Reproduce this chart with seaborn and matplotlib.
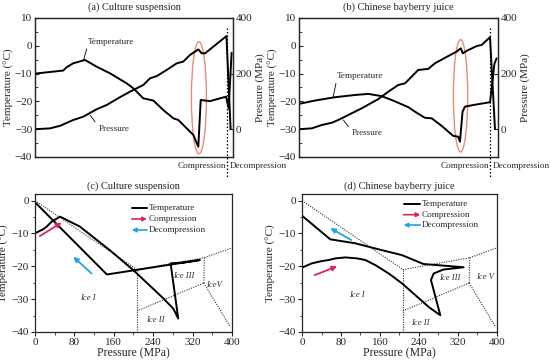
import numpy as np
import pandas as pd
import seaborn as sns
import matplotlib.pyplot as plt
from matplotlib.patches import Ellipse

sns.set_style("ticks")
plt.rcParams['font.family'] = ['Liberation Serif', 'DejaVu Serif']
plt.rcParams['axes.unicode_minus'] = True

# ---------------- data ----------------
# (a) culture suspension, time course (t = fraction of process time)
a_temp_t = [0.0, 0.143, 0.16, 0.193, 0.253, 0.311, 0.379, 0.463, 0.497, 0.547, 0.598, 0.648,
            0.699, 0.724, 0.783, 0.80, 0.825, 0.837, 0.884, 0.965, 0.978, 0.993]
a_temp = [-10.0, -8.9, -7.7, -6.3, -5.1, -7.5, -9.9, -13.5, -15.3, -18.9, -19.7, -23.1,
          -26.1, -26.7, -30.9, -32.1, -36.3, -19.5, -19.9, -18.3, -22.5, -2.5]
a_pres_t = [0.0, 0.076, 0.126, 0.193, 0.244, 0.312, 0.362, 0.429, 0.48, 0.505, 0.547, 0.581,
            0.615, 0.665, 0.716, 0.749, 0.783, 0.808, 0.825, 0.842, 0.859, 0.967, 0.988]
a_pres = [0, 3, 12, 33, 45, 72, 87, 115, 135, 144, 159, 183,
          191, 213, 237, 243, 267, 279, 287, 273, 273, 335, 0]

# (b) Chinese bayberry juice, time course
b_temp_t = [0.0, 0.08, 0.181, 0.281, 0.348, 0.415, 0.466, 0.499, 0.55, 0.583, 0.633, 0.667,
            0.717, 0.775, 0.80, 0.809, 0.822, 0.834, 0.876, 0.96, 0.972, 0.982, 0.993]
b_temp = [-20.9, -19.7, -18.5, -17.7, -17.3, -18.1, -19.5, -20.5, -22.1, -23.7, -25.9, -26.1,
          -28.8, -32.4, -32.7, -34.5, -23.7, -21.9, -21.3, -20.3, -13.0, -6.5, -4.5]
b_pres_t = [0.0, 0.064, 0.114, 0.164, 0.197, 0.231, 0.281, 0.315, 0.365, 0.398, 0.449, 0.499,
            0.533, 0.566, 0.599, 0.65, 0.683, 0.75, 0.792, 0.813, 0.823, 0.843, 0.893, 0.918,
            0.96, 0.985]
b_pres = [0, 3, 15, 23, 33, 45, 63, 75, 95, 108, 135, 159,
          165, 189, 213, 217, 237, 263, 279, 291, 273, 282, 299, 303,
          331, 0]

# (c) culture suspension, temperature vs pressure path
c_pres = [0, 17, 24, 34, 51, 91, 152, 200, 261, 281, 291, 275.5, 300, 335, 146, 0]
c_temp = [-9.95, -8.7, -7.9, -6.4, -4.9, -7.9, -15.1, -21.2, -29.8, -32.9, -35.9, -19.1,
          -18.9, -18.1, -22.5, -0.5]

# (d) Chinese bayberry juice, temperature vs pressure path
d_pres = [0, 20.5, 41, 54.7, 68.4, 89, 113, 130, 150, 178, 205, 232.6, 260, 283.7,
          264.6, 270, 290, 331.5, 249, 205, 164, 109, 58, 0]
d_temp = [-20.4, -19.1, -18.4, -18.1, -17.6, -17.3, -17.6, -18.1, -19.6, -22.2, -25.2, -28.8,
          -32.4, -34.9, -24.2, -22.2, -21.0, -20.3, -19.3, -16.6, -15.1, -13.0, -11.8, -4.6]

# phase boundaries of water (pressure MPa, temperature C)
pb_melt_I_p = [0, 207];    pb_melt_I_t = [0, -21.0]
pb_melt_III_p = [207, 344]; pb_melt_III_t = [-21.0, -17.4]
pb_melt_V_p = [344, 400];  pb_melt_V_t = [-17.4, -14.4]
pb_I_II_p = [207, 207];    pb_I_II_t = [-21.0, -40]
pb_II_III_p = [207, 343];  pb_II_III_t = [-33.6, -25.1]
pb_III_V_p = [343, 344];   pb_III_V_t = [-25.1, -17.4]
pb_II_V_p = [343, 397];    pb_II_V_t = [-25.1, -38.5]

phase_labels = ["Ice I", "Ice II", "Ice III"]
titles = ["(a) Culture suspension", "(b) Chinese bayberry juice",
          "(c) Culture suspension", "(d) Chinese bayberry juice"]
press_ticks = [0, 80, 160, 240, 320, 400]

# ---------------- figure ----------------
fig = plt.figure(figsize=(5.5, 3.62), dpi=100)
ax_a = fig.add_axes([0.0636, 0.5663, 0.36, 0.384])
ax_b = fig.add_axes([0.5436, 0.5663, 0.3618, 0.384])
ax_c = fig.add_axes([0.0636, 0.0829, 0.358, 0.3812])
ax_d = fig.add_axes([0.5491, 0.0829, 0.3545, 0.3812])

RED = '#e0245a'
BLUE = '#22a5df'
ELL = '#e98c78'
LW = 1.4
TICK_FS = 8
LAB_FS = 8
SMALL_FS = 6.6


def top_panel(ax, tt, temp, pt, pres, title, td, ell, ann):
    sns.lineplot(x=tt, y=temp, ax=ax, color='black', lw=LW, sort=False, estimator=None)
    ax.set_xlim(0, 1)
    ax.set_ylim(-40, 10)
    ax.set_yticks([10, 0, -10, -20, -30, -40])
    ax.set_yticks(np.arange(-40, 11, 5), minor=True)
    ax.set_xticks([])
    ax.tick_params(axis='y', direction='in', length=3, labelsize=TICK_FS, pad=2)
    ax.tick_params(axis='y', which='minor', direction='in', length=1.8)
    ax.set_ylabel("Temperature (\u00b0C)", fontsize=LAB_FS, labelpad=0.5)
    ax.set_xlabel("")
    ax.set_title(title, fontsize=7.5, pad=6)
    ax2 = ax.twinx()
    sns.lineplot(x=pt, y=pres, ax=ax2, color='black', lw=LW, sort=False, estimator=None)
    ax2.set_ylim(-100, 400)
    ax2.set_yticks([0, 200, 400])
    ax2.tick_params(axis='y', direction='in', length=3, labelsize=TICK_FS, pad=2)
    ax2.set_ylabel("Pressure (MPa)", fontsize=LAB_FS, labelpad=2)
    ax2.set_xlim(0, 1)
    for s in list(ax.spines.values()) + list(ax2.spines.values()):
        s.set_linewidth(0.9)
    # phase separation line
    ax.plot([td, td], [6.5, -47.5], ls=(0, (1.2, 1.6)), color='black', lw=0.9, clip_on=False)
    ax.text(td - 0.006, -43.3, "Compression", ha='right', va='center', fontsize=SMALL_FS)
    ax.text(td + 0.012, -43.3, "Decompression", ha='left', va='center', fontsize=SMALL_FS)
    ax.add_patch(Ellipse(ell[:2], ell[2], ell[3], fill=False, ec=ELL, lw=1.0))
    for label, xy, xyt, rp in ann:
        ax.annotate(label, xy=xy, xytext=xyt, fontsize=SMALL_FS, ha='left', va='center',
                    arrowprops=dict(arrowstyle='-', lw=0.6, color='black',
                                    relpos=rp, shrinkA=0, shrinkB=0))
    return ax2


top_panel(ax_a, a_temp_t, a_temp, a_pres_t, a_pres, titles[0], 0.97,
          (0.828, -18.7, 0.076, 40.3),
          [("Temperature", (0.245, -5.3), (0.268, 1.5), (0.0, 0.2)),
           ("Pressure", (0.278, -24.9), (0.32, -29.8), (0.0, 0.8))])
top_panel(ax_b, b_temp_t, b_temp, b_pres_t, b_pres, titles[1], 0.96,
          (0.812, -18.0, 0.072, 40.4),
          [("Temperature", (0.172, -18.3), (0.19, -10.9), (0.0, 0.1)),
           ("Pressure", (0.223, -26.7), (0.265, -31.5), (0.0, 0.8))])


def bottom_panel(ax, p, t, title, arrows, leg, labs):
    pbs = [(pb_melt_I_p, pb_melt_I_t), (pb_melt_III_p, pb_melt_III_t),
           (pb_melt_V_p, pb_melt_V_t), (pb_I_II_p, pb_I_II_t),
           (pb_II_III_p, pb_II_III_t), (pb_III_V_p, pb_III_V_t), (pb_II_V_p, pb_II_V_t)]
    for bp, bt in pbs:
        ax.plot(bp, bt, ls=(0, (1.0, 1.2)), color='#333333', lw=0.8)
    sns.lineplot(x=p, y=t, ax=ax, color='black', lw=LW, sort=False, estimator=None)
    ax.set_xlim(0, 400)
    ax.set_ylim(-40, 2)
    ax.set_xticks(press_ticks)
    ax.set_xticks(np.arange(0, 401, 40), minor=True)
    ax.set_yticks([0, -10, -20, -30, -40])
    ax.set_yticks(np.arange(-40, 1, 5), minor=True)
    ax.tick_params(direction='out', length=3, labelsize=TICK_FS, pad=1.5)
    ax.tick_params(which='minor', direction='out', length=1.8)
    ax.set_xlabel("Pressure (MPa)", fontsize=8.5, labelpad=0)
    ax.set_ylabel("Temperature (\u00b0C)", fontsize=LAB_FS, labelpad=2)
    ax.set_title(title, fontsize=7.5, pad=4)
    for s in ax.spines.values():
        s.set_linewidth(0.9)
    for (x0, y0, x1, y1, col) in arrows:
        ax.annotate("", xy=(x1, y1), xytext=(x0, y0),
                    arrowprops=dict(arrowstyle='-|>', color=col, lw=1.3,
                                    mutation_scale=7, shrinkA=0, shrinkB=0))
    hx0, hx1, tx, ys = leg
    ax.plot([hx0, hx1], [ys[0], ys[0]], color='black', lw=LW, transform=ax.transAxes)
    ax.annotate("", xy=(hx1, ys[1]), xytext=(hx0, ys[1]), xycoords='axes fraction',
                arrowprops=dict(arrowstyle='-|>', color=RED, lw=1.2, mutation_scale=6,
                                shrinkA=0, shrinkB=0))
    ax.annotate("", xy=(hx0, ys[2]), xytext=(hx1, ys[2]), xycoords='axes fraction',
                arrowprops=dict(arrowstyle='-|>', color=BLUE, lw=1.2, mutation_scale=6,
                                shrinkA=0, shrinkB=0))
    for name, yy in zip(["Temperature", "Compression", "Decompression"], ys):
        ax.text(tx, yy, name, transform=ax.transAxes, fontsize=SMALL_FS,
                ha='left', va='center')
    for name, (lx, ly) in labs.items():
        ax.text(lx, ly, name, fontsize=6.2, fontstyle='italic', ha='center', va='center',
                color='#333333')


bottom_panel(ax_c, c_pres, c_temp, titles[2],
             [(10, -10.8, 54, -6.7, RED), (115, -22.2, 78, -17.1, BLUE)],
             (0.492, 0.569, 0.576, [0.899, 0.819, 0.739]),
             {phase_labels[0]: (108, -29.8), phase_labels[1]: (244, -36.2),
              phase_labels[2]: (302, -23.0), "IceV": (363, -25.8)})
bottom_panel(ax_d, d_pres, d_temp, titles[3],
             [(26, -22.7, 72, -20.0, RED), (101, -12.0, 58, -8.4, BLUE)],
             (0.521, 0.607, 0.615, [0.928, 0.85, 0.775]),
             {phase_labels[0]: (113, -28.8), phase_labels[1]: (243, -37.3),
              phase_labels[2]: (304, -23.7), "Ice V": (375, -23.2)})

fig.savefig("out.png", dpi=100)
